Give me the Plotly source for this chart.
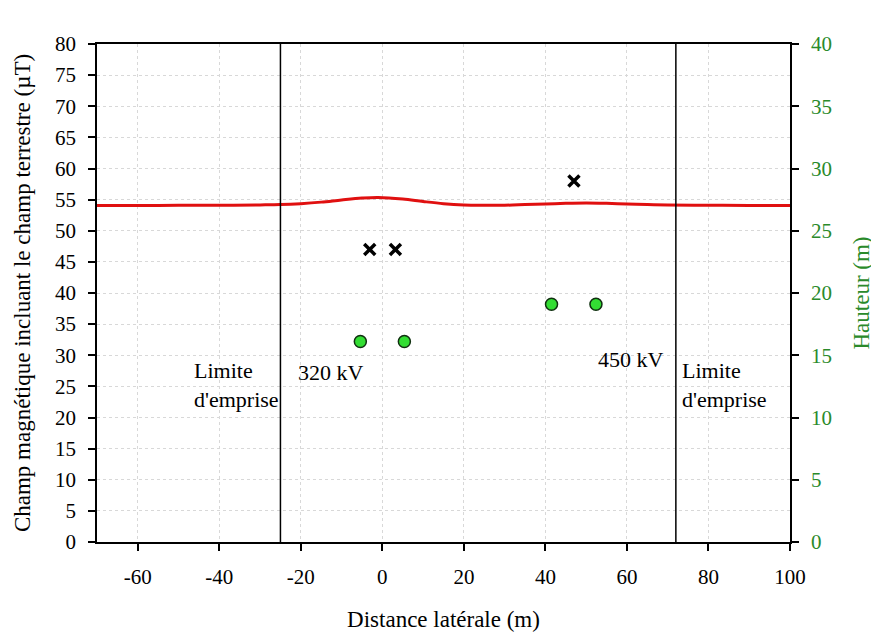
import plotly.graph_objects as go

# Data
dist = [-70, -60, -50, -40, -30, -25, -20, -15, -10, -5, -1, 5, 10, 15, 20, 25, 30, 35, 40, 45, 50, 55, 60, 65, 70, 80, 90, 100]
champ = [54.05, 54.05, 54.1, 54.1, 54.15, 54.2, 54.35, 54.6, 54.95, 55.25, 55.35, 55.1, 54.7, 54.35, 54.15, 54.1, 54.1, 54.2, 54.3, 54.4, 54.45, 54.4, 54.3, 54.2, 54.15, 54.1, 54.05, 54.05]

gw_x = [-3.1, 3.2, 47.0]
gw_h = [23.5, 23.5, 29.0]
cond_x = [-5.4, 5.4, 41.5, 52.4]
cond_h = [16.1, 16.1, 19.1, 19.1]

limits = [-25, 72]

x_ticks = [-60, -40, -20, 0, 20, 40, 60, 80, 100]
x_ticktext = ["-60", "-40", "-20", "0", "20", "40", "60", "80", "100"]

FONT = "Liberation Serif"
GREEN = "#2a8a2a"

fig = go.Figure()
fig.add_trace(go.Scatter(x=dist, y=champ, mode="lines", line=dict(color="#e01010", width=3, shape="spline"),
                         showlegend=False, yaxis="y"))
fig.add_trace(go.Scatter(x=gw_x, y=gw_h, mode="markers", yaxis="y2", showlegend=False,
                         marker=dict(symbol="x-thin", size=11, color="black", line=dict(width=3.5, color="black"))))
fig.add_trace(go.Scatter(x=cond_x, y=cond_h, mode="markers", yaxis="y2", showlegend=False,
                         marker=dict(symbol="circle", size=12, color="#33dd33", line=dict(width=1.5, color="#103010"))))

for lx in limits:
    fig.add_shape(type="line", x0=lx, x1=lx, y0=0, y1=80, xref="x", yref="y",
                  line=dict(color="black", width=1.5))

anns = [
    dict(x=-46.6, y=25.3, text="Limite<br>d'emprise", xanchor="left", align="left"),
    dict(x=-21.2, y=27.3, text="320 kV", xanchor="left", align="left"),
    dict(x=69.6, y=29.3, text="450 kV", xanchor="right", align="right"),
    dict(x=73.0, y=25.3, text="Limite<br>d'emprise", xanchor="left", align="left"),
]
for a in anns:
    fig.add_annotation(xref="x", yref="y", showarrow=False, yanchor="middle",
                       font=dict(family=FONT, size=22, color="black"), **a)

fig.update_layout(
    width=871, height=624,
    margin=dict(l=89, r=89, t=36, b=90, autoexpand=False),
    paper_bgcolor="white", plot_bgcolor="white",
    font=dict(family=FONT, size=21, color="black"),
    xaxis=dict(range=[-70, 100], tickvals=x_ticks, ticktext=x_ticktext, automargin=False,
               ticks="outside", ticklen=7, tickwidth=1.5, tickcolor="black",
               ticklabelstandoff=8,
               showline=True, linecolor="black", linewidth=1.5, mirror=True,
               showgrid=True, gridcolor="#d8d8d8", griddash="dot", gridwidth=1,
               zeroline=False,
               title=dict(text="Distance latérale (m)", font=dict(size=23), standoff=26),
               tickfont=dict(size=21)),
    yaxis=dict(range=[0, 80], dtick=5, ticks="outside", ticklen=7, tickwidth=1.5, tickcolor="black",
               ticklabelstandoff=8, automargin=False,
               showline=True, linecolor="black", linewidth=1.5,
               showgrid=True, gridcolor="#d8d8d8", griddash="dot", gridwidth=1,
               zeroline=False,
               title=dict(text="Champ magnétique incluant le champ terrestre (µT)", font=dict(size=23), standoff=18),
               tickfont=dict(size=21)),
    yaxis2=dict(range=[0, 40], dtick=5, overlaying="y", side="right", automargin=False,
                ticks="outside", ticklen=7, tickwidth=1.5, tickcolor="black",
                ticklabelstandoff=8,
                showline=True, linecolor="black", linewidth=1.5,
                showgrid=False, zeroline=False,
                tickfont=dict(size=21, color=GREEN),
                title=dict(text="Hauteur (m)", font=dict(size=23, color=GREEN), standoff=22)),
)

fig.write_html("out.html")
